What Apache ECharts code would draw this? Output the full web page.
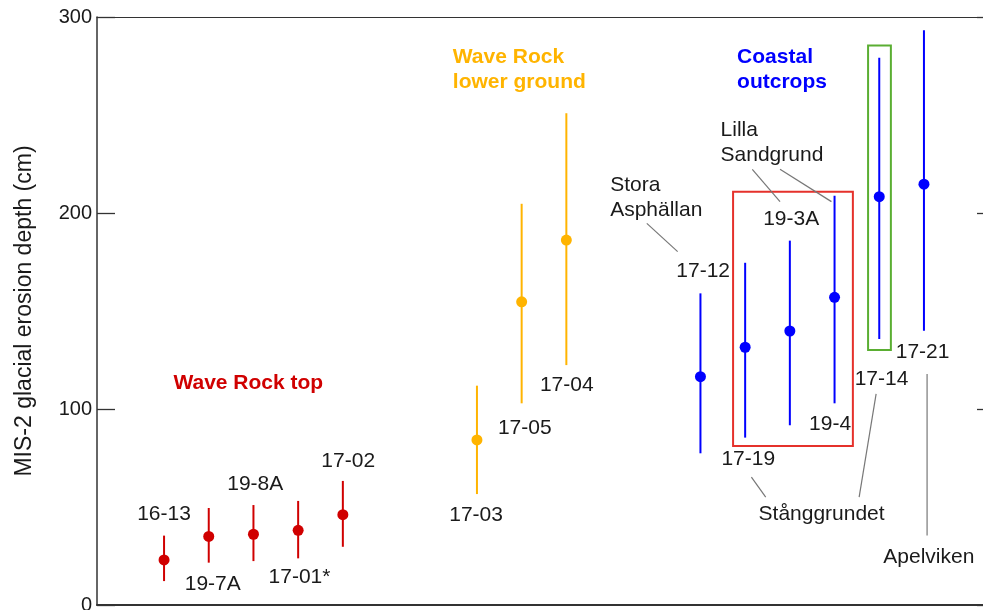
<!DOCTYPE html>
<html>
<head>
<meta charset="utf-8">
<script src="https://cdn.jsdelivr.net/npm/echarts@6/dist/echarts.min.js"></script>
<style>
  html, body { margin: 0; padding: 0; background: #ffffff; }
  #chart { width: 983px; height: 610px; }
</style>
</head>
<body>
<div id="chart"></div>
<script>
// Sample slots along the horizontal (one slot per sample, gaps between groups)
const topNames   = ['16-13', '19-7A', '19-8A', '17-01*', '17-02'];
const topSlot    = [1.5, 2.5, 3.5, 4.5, 5.5];
const topMid     = [23.0, 35.0, 36.1, 38.1, 46.1];
const topLow     = [12.2, 21.6, 22.4, 23.8, 29.7];
const topHigh    = [35.4, 49.5, 51.0, 53.1, 63.3];

const lowerNames = ['17-03', '17-05', '17-04'];
const lowerSlot  = [8.5, 9.5, 10.5];
const lowerMid   = [84.2, 154.7, 186.2];
const lowerLow   = [56.6, 102.9, 122.4];
const lowerHigh  = [111.9, 204.7, 250.9];

const coastNames = ['17-12', '17-19', '19-3A', '19-4', '17-14', '17-21'];
const coastSlot  = [13.5, 14.5, 15.5, 16.5, 17.5, 18.5];
const coastMid   = [116.5, 131.5, 139.8, 157.0, 208.3, 214.7];
const coastLow   = [77.4, 85.4, 91.7, 102.9, 135.7, 139.9];
const coastHigh  = [159.0, 174.6, 185.9, 208.8, 279.2, 293.2];

const yTicks = [0, 100, 200, 300];

// Sample-name label anchors (slot, depth)
const nameLabelX = [1.50, 2.59, 3.54, 4.53, 5.62, 8.48, 9.57, 10.51, 13.56, 14.57, 15.53, 16.40, 17.55, 18.47];
const nameLabelY = [46.4, 10.7, 61.7, 14.4, 73.5, 46.0, 90.2, 111.9, 170.1, 74.3, 196.8, 92.2, 115.3, 129.1];
const nameLabels = topNames.concat(lowerNames, coastNames);

// Site names with leader lines
const siteText = ['Stora\nAsphällan', 'Lilla\nSandgrund', 'Stånggrundet', 'Apelviken'];
const siteX    = [11.48, 13.95, 16.21, 18.61];
const siteY    = [207.9, 236.0, 46.3, 24.6];
const siteAlign = ['left', 'left', 'center', 'center'];
const leaderFrom = [[12.30, 194.7], [14.66, 222.3], [15.28, 222.3], [14.64, 65.2], [17.43, 107.7], [18.57, 117.9]];
const leaderTo   = [[12.99, 180.3], [15.28, 205.8], [16.43, 205.8], [14.96, 55.0], [17.05, 55.0], [18.57, 35.4]];

// Group headings
const groupText  = ['Wave Rock top', 'Wave Rock\nlower ground', 'Coastal\noutcrops'];
const groupX     = [1.71, 7.96, 14.32];
const groupY     = [113.1, 273.0, 273.0];
const groupColor = ['#d00000', '#ffb400', '#0000ff'];

// Highlight boxes [slot0, depth0, slot1, depth1]
const boxes = [[14.23, 81.1, 16.91, 210.9], [17.25, 130.1, 17.76, 285.4]];
const boxColor = ['#e5312b', '#5aae32'];

const FONT = '"Liberation Sans", Arial, Helvetica, sans-serif';
const RED = '#d00000', ORANGE = '#ffb400', BLUE = '#0000ff';

function zip3(s, a, b) { return s.map((x, i) => [x, a[i], b[i]]); }
function zip2(s, a) { return s.map((x, i) => [x, a[i]]); }

function errorBars(name, slots, low, high, color) {
  return {
    type: 'custom', name: name, xAxisIndex: 0, yAxisIndex: 0, z: 3,
    data: zip3(slots, low, high),
    encode: { x: 0, y: [1, 2] },
    renderItem: function (params, api) {
      const p0 = api.coord([api.value(0), api.value(1)]);
      const p1 = api.coord([api.value(0), api.value(2)]);
      return { type: 'line', shape: { x1: p0[0], y1: p0[1], x2: p1[0], y2: p1[1] },
               style: { stroke: color, lineWidth: 2 } };
    }
  };
}
function dots(name, slots, mid, color) {
  return { type: 'scatter', name: name, symbol: 'circle', symbolSize: 11, z: 4,
           itemStyle: { color: color, opacity: 1 }, data: zip2(slots, mid) };
}
function texts(list, xs, ys, styleFn) {
  return {
    type: 'custom', z: 5, silent: true, clip: false,
    data: zip2(xs, ys),
    encode: { x: 0, y: 1 },
    renderItem: function (params, api) {
      const p = api.coord([api.value(0), api.value(1)]);
      const i = params.dataIndex;
      return { type: 'text', x: p[0], y: p[1], style: Object.assign({ text: list[i] }, styleFn(i)) };
    }
  };
}

const chart = echarts.init(document.getElementById('chart'), null, { renderer: 'canvas' });

const option = {
  animation: false,
  backgroundColor: '#ffffff',
  grid: { left: 97, top: 17, right: -8, bottom: 5, containLabel: false, outerBoundsMode: 'none' },
  xAxis: [
    { type: 'value', min: 0, max: 20, position: 'bottom',
      axisLine: { show: true, onZero: false, lineStyle: { color: '#333', width: 2 } },
      axisTick: { show: false }, axisLabel: { show: false }, splitLine: { show: false } },
    { type: 'value', min: 0, max: 20, position: 'top',
      axisLine: { show: true, onZero: false, lineStyle: { color: '#333', width: 1.2 } },
      axisTick: { show: false }, axisLabel: { show: false }, splitLine: { show: false } }
  ],
  yAxis: [
    { type: 'value', min: yTicks[0], max: yTicks[yTicks.length - 1], interval: 100, position: 'left',
      name: 'MIS-2 glacial erosion depth (cm)', nameLocation: 'middle', nameGap: 61,
      nameTextStyle: { fontFamily: FONT, fontSize: 23, color: '#1a1a1a' },
      axisLine: { show: true, onZero: false, lineStyle: { color: '#333', width: 1.5 } },
      axisTick: { show: true, inside: true, length: 18, lineStyle: { color: '#333', width: 1.3 } },
      axisLabel: { fontFamily: FONT, fontSize: 20, color: '#1a1a1a', margin: 5 },
      splitLine: { show: false } },
    { type: 'value', min: yTicks[0], max: yTicks[yTicks.length - 1], interval: 100, position: 'right',
      axisLine: { show: true, onZero: false, lineStyle: { color: '#333', width: 1.5 } },
      axisTick: { show: true, inside: true, length: 14, lineStyle: { color: '#333', width: 1.3 } },
      axisLabel: { show: false }, splitLine: { show: false } }
  ],
  series: [
    // highlight boxes
    {
      type: 'custom', z: 2, silent: true,
      data: boxes,
      encode: { x: [0, 2], y: [1, 3] },
      renderItem: function (params, api) {
        const a = api.coord([api.value(0), api.value(1)]);
        const b = api.coord([api.value(2), api.value(3)]);
        return { type: 'rect',
                 shape: { x: a[0], y: b[1], width: b[0] - a[0], height: a[1] - b[1] },
                 style: { fill: 'none', stroke: boxColor[params.dataIndex], lineWidth: 2 } };
      }
    },
    // leader lines
    {
      type: 'custom', z: 2, silent: true,
      data: leaderFrom.map((f, i) => [f[0], f[1], leaderTo[i][0], leaderTo[i][1]]),
      encode: { x: [0, 2], y: [1, 3] },
      renderItem: function (params, api) {
        const a = api.coord([api.value(0), api.value(1)]);
        const b = api.coord([api.value(2), api.value(3)]);
        return { type: 'line', shape: { x1: a[0], y1: a[1], x2: b[0], y2: b[1] },
                 style: { stroke: '#777777', lineWidth: 1.2 } };
      }
    },
    errorBars('Wave Rock top', topSlot, topLow, topHigh, RED),
    errorBars('Wave Rock lower ground', lowerSlot, lowerLow, lowerHigh, ORANGE),
    errorBars('Coastal outcrops', coastSlot, coastLow, coastHigh, BLUE),
    dots('Wave Rock top', topSlot, topMid, RED),
    dots('Wave Rock lower ground', lowerSlot, lowerMid, ORANGE),
    dots('Coastal outcrops', coastSlot, coastMid, BLUE),
    texts(nameLabels, nameLabelX, nameLabelY, function () {
      return { font: '21px ' + FONT, fill: '#1a1a1a', align: 'center', verticalAlign: 'middle' };
    }),
    texts(siteText, siteX, siteY, function (i) {
      return { font: '21px ' + FONT, fill: '#1a1a1a', align: siteAlign[i], verticalAlign: 'middle', lineHeight: 25 };
    }),
    texts(groupText, groupX, groupY, function (i) {
      return { font: 'bold 21px ' + FONT, fill: groupColor[i], align: 'left', verticalAlign: 'middle', lineHeight: 25 };
    })
  ]
};

chart.setOption(option);
</script>
</body>
</html>
